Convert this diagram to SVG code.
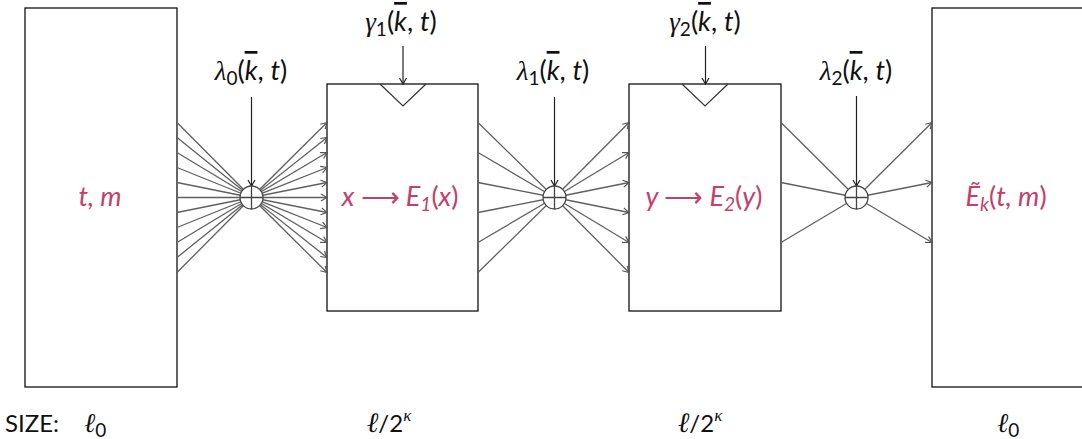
<svg xmlns="http://www.w3.org/2000/svg" width="1082" height="439" viewBox="0 0 1082 439">
<style>
.box{fill:#fff;stroke:#111;stroke-width:1.3}
.fan{stroke:#606060;stroke-width:1.3;fill:none}
.arr{stroke:#606060;stroke-width:1.3;fill:none;marker-end:url(#ah)}
.karr{stroke:#222;stroke-width:1.2;fill:none;marker-end:url(#ahk)}
.xor{fill:#fff;stroke:#444;stroke-width:1.3}
.xl{stroke:#444;stroke-width:1.3}
.tri{fill:none;stroke:#333;stroke-width:1.2}
.in{font-family:Lato,"Open Sans",sans-serif;font-style:italic;font-size:27px;fill:#c2416a}
.lab{font-family:Lato,"Open Sans",sans-serif;font-size:27px;fill:#111}
.gk{font-family:"Liberation Serif",serif;font-style:italic}
.it{font-style:italic}
.up{font-style:normal}
.sub{font-size:19px}
.sz{font-family:Lato,"Open Sans",sans-serif;font-size:24px;fill:#111}
</style>
<defs>
<marker id="ah" markerWidth="10" markerHeight="10" refX="9" refY="5" orient="auto" markerUnits="userSpaceOnUse">
<path d="M3,1.5 L9,5 L3,8.5" fill="none" stroke="#555" stroke-width="1.2"/>
</marker>
<marker id="ahk" markerWidth="10" markerHeight="10" refX="9" refY="5" orient="auto" markerUnits="userSpaceOnUse">
<path d="M3,1.5 L9,5 L3,8.5" fill="none" stroke="#222" stroke-width="1.2"/>
</marker>
</defs>

<g id="box0"><rect class="box" x="25" y="8" width="152" height="379"/><text class="in" x="100" y="206" text-anchor="middle">t, m</text></g>
<g id="box1"><rect class="box" x="327" y="84" width="151" height="227"/><path class="tri" d="M380,84 L403,106 L426,84"/><text class="in" x="400" y="206" text-anchor="middle">x <tspan class="up">⟶</tspan> E<tspan class="sub" dy="5">1</tspan><tspan class="up" dy="-5">(</tspan>x<tspan class="up">)</tspan></text></g>
<g id="box2"><rect class="box" x="629" y="84" width="152" height="227"/><path class="tri" d="M682,84 L705,106 L728,84"/><text class="in" x="704" y="206" text-anchor="middle">y <tspan class="up">⟶</tspan> E<tspan class="sub" dy="5">2</tspan><tspan class="up" dy="-5">(</tspan>y<tspan class="up">)</tspan></text></g>
<g id="box3"><rect class="box" x="932" y="8" width="160" height="379"/><text class="in" x="1006" y="206" text-anchor="middle">Ẽ<tspan class="sub" dy="5">k</tspan><tspan class="up" dy="-5">(</tspan>t, m<tspan class="up">)</tspan></text></g>

<g id="connectors">
<g id="fan0">
<path class="fan" d="M177,122.5 L251.5,197.5 M177,137.5 L251.5,197.5 M177,152.5 L251.5,197.5 M177,167.5 L251.5,197.5 M177,182.5 L251.5,197.5 M177,197.5 L251.5,197.5 M177,212.5 L251.5,197.5 M177,227.5 L251.5,197.5 M177,242.5 L251.5,197.5 M177,257.5 L251.5,197.5 M177,272.5 L251.5,197.5"/>
<line class="arr" x1="251.5" y1="197.5" x2="327" y2="122.5"/>
<line class="arr" x1="251.5" y1="197.5" x2="327" y2="137.5"/>
<line class="arr" x1="251.5" y1="197.5" x2="327" y2="152.5"/>
<line class="arr" x1="251.5" y1="197.5" x2="327" y2="167.5"/>
<line class="arr" x1="251.5" y1="197.5" x2="327" y2="182.5"/>
<line class="arr" x1="251.5" y1="197.5" x2="327" y2="197.5"/>
<line class="arr" x1="251.5" y1="197.5" x2="327" y2="212.5"/>
<line class="arr" x1="251.5" y1="197.5" x2="327" y2="227.5"/>
<line class="arr" x1="251.5" y1="197.5" x2="327" y2="242.5"/>
<line class="arr" x1="251.5" y1="197.5" x2="327" y2="257.5"/>
<line class="arr" x1="251.5" y1="197.5" x2="327" y2="272.5"/>
</g>
<g id="fan1">
<path class="fan" d="M478,122.5 L554.5,197.5 M478,152.5 L554.5,197.5 M478,182.5 L554.5,197.5 M478,212.5 L554.5,197.5 M478,242.5 L554.5,197.5 M478,272.5 L554.5,197.5"/>
<line class="arr" x1="554.5" y1="197.5" x2="629" y2="122.5"/>
<line class="arr" x1="554.5" y1="197.5" x2="629" y2="152.5"/>
<line class="arr" x1="554.5" y1="197.5" x2="629" y2="182.5"/>
<line class="arr" x1="554.5" y1="197.5" x2="629" y2="212.5"/>
<line class="arr" x1="554.5" y1="197.5" x2="629" y2="242.5"/>
<line class="arr" x1="554.5" y1="197.5" x2="629" y2="272.5"/>
</g>
<g id="fan2">
<path class="fan" d="M781,122.5 L856.5,197.5 M781,182.5 L856.5,197.5 M781,242.5 L856.5,197.5"/>
<line class="arr" x1="856.5" y1="197.5" x2="932" y2="122.5"/>
<line class="arr" x1="856.5" y1="197.5" x2="932" y2="182.5"/>
<line class="arr" x1="856.5" y1="197.5" x2="932" y2="242.5"/>
</g>
<line class="karr" x1="251.5" y1="97" x2="251.5" y2="186"/>
<line class="karr" x1="554.5" y1="97" x2="554.5" y2="186"/>
<line class="karr" x1="856.5" y1="96" x2="856.5" y2="186"/>
<line class="karr" x1="403" y1="46" x2="403" y2="84"/>
<line class="karr" x1="705.5" y1="46" x2="705.5" y2="84"/>
</g>

<g id="xor0"><circle class="xor" cx="251.5" cy="197.5" r="11.5"/><path class="xl" d="M240,197.5 H263 M251.5,186 V209"/></g>
<g id="xor1"><circle class="xor" cx="554.5" cy="197.5" r="11.5"/><path class="xl" d="M543,197.5 H566 M554.5,186 V209"/></g>
<g id="xor2"><circle class="xor" cx="856.5" cy="197.5" r="11.5"/><path class="xl" d="M845,197.5 H868 M856.5,186 V209"/></g>

<g id="labels">
<text class="lab" x="251" y="80" text-anchor="middle"><tspan class="gk">λ</tspan><tspan class="sub" dy="5">0</tspan><tspan dy="-5">(</tspan><tspan class="it" text-decoration="overline">k</tspan>, <tspan class="it">t</tspan>)</text>
<text class="lab" x="401" y="31" text-anchor="middle"><tspan class="gk">γ</tspan><tspan class="sub" dy="5">1</tspan><tspan dy="-5">(</tspan><tspan class="it" text-decoration="overline">k</tspan>, <tspan class="it">t</tspan>)</text>
<text class="lab" x="553" y="80" text-anchor="middle"><tspan class="gk">λ</tspan><tspan class="sub" dy="5">1</tspan><tspan dy="-5">(</tspan><tspan class="it" text-decoration="overline">k</tspan>, <tspan class="it">t</tspan>)</text>
<text class="lab" x="705" y="31" text-anchor="middle"><tspan class="gk">γ</tspan><tspan class="sub" dy="5">2</tspan><tspan dy="-5">(</tspan><tspan class="it" text-decoration="overline">k</tspan>, <tspan class="it">t</tspan>)</text>
<text class="lab" x="856" y="80" text-anchor="middle"><tspan class="gk">λ</tspan><tspan class="sub" dy="5">2</tspan><tspan dy="-5">(</tspan><tspan class="it" text-decoration="overline">k</tspan>, <tspan class="it">t</tspan>)</text>
<text class="sz" x="5" y="432">SIZE:</text>
<text class="sz" x="84" y="432"><tspan class="gk" font-size="27">ℓ</tspan><tspan class="sub" dy="5">0</tspan></text>
<text class="sz" x="389" y="432" text-anchor="middle" font-size="26"><tspan class="gk" font-size="28">ℓ</tspan>/2<tspan font-size="17" dy="-11" class="gk">κ</tspan></text>
<text class="sz" x="700" y="432" text-anchor="middle" font-size="26"><tspan class="gk" font-size="28">ℓ</tspan>/2<tspan font-size="17" dy="-11" class="gk">κ</tspan></text>
<text class="sz" x="997" y="432"><tspan class="gk" font-size="27">ℓ</tspan><tspan class="sub" dy="5">0</tspan></text>
</g>
</svg>
